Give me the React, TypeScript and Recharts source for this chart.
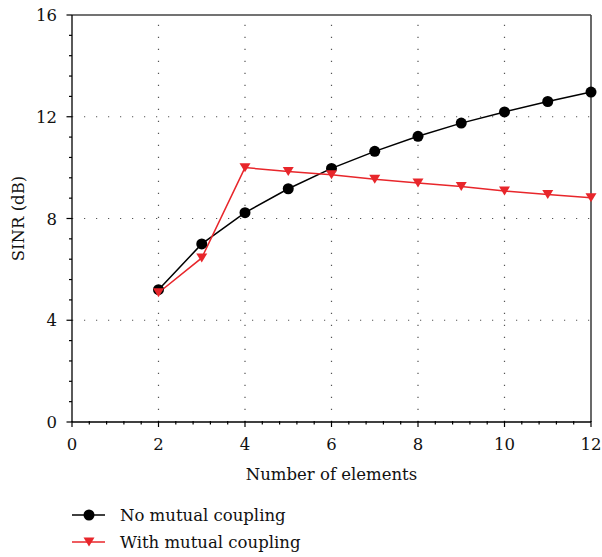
import React from 'react';
import {
  LineChart,
  Line,
  XAxis,
  YAxis,
  ReferenceLine,
  Label,
} from 'recharts';

const elements = [2, 3, 4, 5, 6, 7, 8, 9, 10, 11, 12];
const noCoupling = [5.2, 7.0, 8.23, 9.17, 9.97, 10.64, 11.23, 11.75, 12.19, 12.6, 12.97];
const withCoupling = [5.08, 6.45, 10.0, 9.85, 9.72, 9.54, 9.4, 9.26, 9.08, 8.94, 8.82];

const xMajor = [0, 2, 4, 6, 8, 10, 12];
const yMajor = [0, 4, 8, 12, 16];
const xGrid = [2, 4, 6, 8, 10];
const yGrid = [4, 8, 12];

const data = elements.map((n, i) => ({ n, none: noCoupling[i], mc: withCoupling[i] }));

// 5 subdivisions between major ticks
const subdivide = (majors: number[]) => {
  const out: number[] = [];
  for (let i = 0; i < majors.length - 1; i++) {
    const step = (majors[i + 1] - majors[i]) / 5;
    for (let k = 0; k < 5; k++) out.push(+(majors[i] + k * step).toFixed(3));
  }
  out.push(majors[majors.length - 1]);
  return out;
};

const FONT = '"DejaVu Serif", "Liberation Serif", serif';
const FS = 16.5;
const RED = '#e8262b';

const XTick = (props: any) => {
  const { x, y, payload } = props;
  const major = xMajor.includes(payload.value);
  return (
    <g>
      <line x1={x} x2={x} y1={y - 1} y2={y + (major ? 5 : 2.5)} stroke="#000" strokeWidth={1.2} />
      {major && (
        <text x={x} y={y + 28} textAnchor="middle" fontSize={FS} fontFamily={FONT} fill="#111">
          {payload.value}
        </text>
      )}
    </g>
  );
};

const YTick = (props: any) => {
  const { x, y, payload } = props;
  const major = yMajor.includes(payload.value);
  return (
    <g>
      <line x1={x - (major ? 5.5 : 3)} x2={x} y1={y} y2={y} stroke="#000" strokeWidth={1.2} />
      {major && (
        <text x={x - 15} y={y + 6} textAnchor="end" fontSize={FS} fontFamily={FONT} fill="#111">
          {payload.value}
        </text>
      )}
    </g>
  );
};

const Circle = (props: any) => {
  const { cx, cy } = props;
  if (cx == null || cy == null) return null;
  return <circle cx={cx} cy={cy} r={5.5} fill="#000" />;
};

const Tri = (props: any) => {
  const { cx, cy } = props;
  if (cx == null || cy == null) return null;
  return (
    <polygon
      points={`${cx - 5.5},${cy - 4.5} ${cx + 5.5},${cy - 4.5} ${cx},${cy + 4.5}`}
      fill={RED}
    />
  );
};

const App: React.FC = () => {
  return (
    <div style={{ position: 'absolute', left: 0, top: 0, width: 602, height: 557, background: '#fff' }}>
      <LineChart width={602} height={557} data={data} margin={{ top: 15, right: 11, left: 0, bottom: 75 }}>
        {xGrid.map((v) => (
          <ReferenceLine key={`gx${v}`} x={v} stroke="#555" strokeWidth={1.2} strokeDasharray="1.2 10.8" />
        ))}
        {yGrid.map((v) => (
          <ReferenceLine key={`gy${v}`} y={v} stroke="#555" strokeWidth={1.2} strokeDasharray="1.2 10.8" />
        ))}
        <ReferenceLine y={16} stroke="#444" strokeWidth={1.6} />
        <ReferenceLine x={12} stroke="#444" strokeWidth={1.6} />
        <XAxis
          dataKey="n"
          type="number"
          domain={[0, 12]}
          ticks={subdivide(xMajor)}
          interval={0}
          height={60}
          tickSize={0}
          tickMargin={0}
          tickLine={false}
          axisLine={{ stroke: '#000', strokeWidth: 1.3 }}
          tick={<XTick />}
        >
          <Label value="Number of elements" position="insideBottom" offset={2} fontSize={FS} fontFamily={FONT} fill="#111" />
        </XAxis>
        <YAxis
          type="number"
          domain={[0, 16]}
          ticks={subdivide(yMajor)}
          interval={0}
          width={72}
          tickSize={0}
          tickMargin={0}
          tickLine={false}
          axisLine={{ stroke: '#000', strokeWidth: 1.3 }}
          tick={<YTick />}
        >
          <Label value="SINR (dB)" angle={-90} position="insideLeft" offset={18} fontSize={FS} fontFamily={FONT} fill="#111" style={{ textAnchor: 'middle' }} />
        </YAxis>
        <Line dataKey="none" stroke="#000" strokeWidth={1.5} dot={<Circle />} isAnimationActive={false} />
        <Line dataKey="mc" stroke={RED} strokeWidth={1.5} dot={<Tri />} isAnimationActive={false} />
      </LineChart>
      <svg width={300} height={60} style={{ position: 'absolute', left: 60, top: 500 }}>
        <line x1={12} x2={45} y1={15} y2={15} stroke="#000" strokeWidth={1.5} />
        <circle cx={29} cy={15} r={5.5} fill="#000" />
        <text x={60} y={21} fontSize={FS} fontFamily={FONT} fill="#111">No mutual coupling</text>
        <line x1={12} x2={45} y1={42} y2={42} stroke={RED} strokeWidth={1.5} />
        <polygon points="23.5,37.5 34.5,37.5 29,46.5" fill={RED} />
        <text x={60} y={48} fontSize={FS} fontFamily={FONT} fill="#111">With mutual coupling</text>
      </svg>
    </div>
  );
};

export default App;
